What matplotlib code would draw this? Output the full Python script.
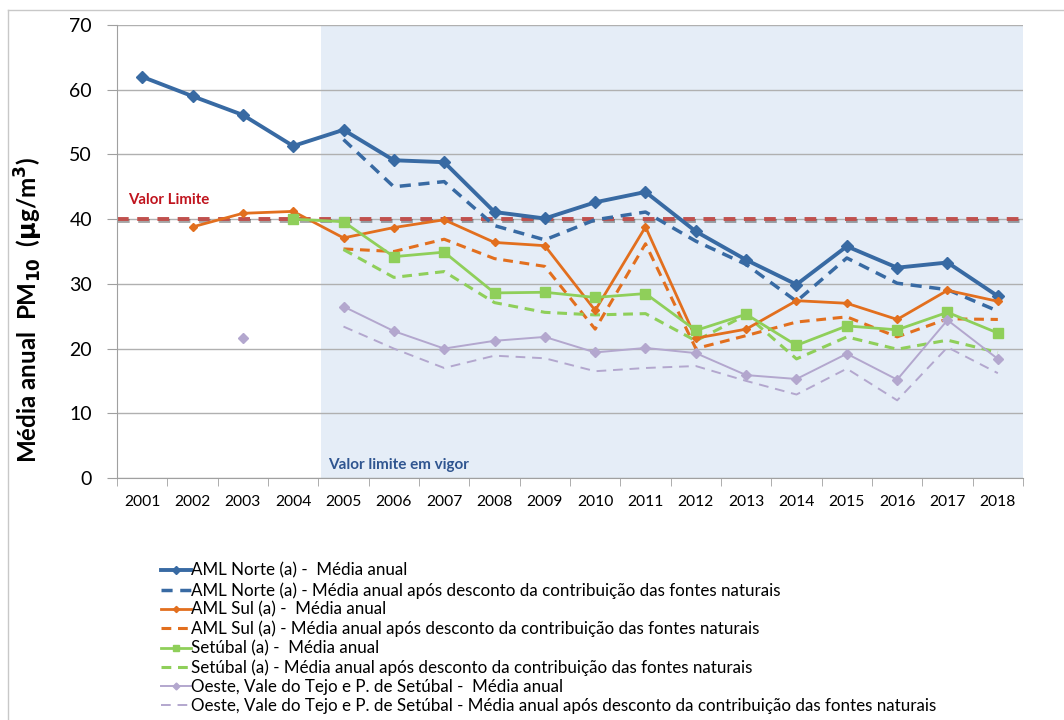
import numpy as np
import matplotlib
matplotlib.use("Agg")
import matplotlib.pyplot as plt
import matplotlib.patheffects as pe
from matplotlib.lines import Line2D

nan = np.nan
years = [str(y) for y in range(2001, 2019)]

norte_media = [62.0, 59.0, 56.1, 51.3, 53.8, 49.1, 48.8, 41.1, 40.1, 42.6, 44.2, 38.1,
               33.7, 29.9, 35.8, 32.5, 33.3, 28.1]
norte_desc = [nan, nan, nan, nan, 52.3, 45.0, 45.8, 39.0, 36.8, 39.9, 41.1, 36.6,
              33.0, 27.3, 34.0, 30.1, 29.1, 25.8]
sul_media = [nan, 38.8, 40.9, 41.2, 37.1, 38.7, 39.9, 36.4, 35.9, 25.9, 38.8, 21.6,
             23.0, 27.4, 27.0, 24.5, 29.0, 27.3]
sul_desc = [nan, nan, nan, nan, 35.4, 35.0, 36.9, 33.9, 32.7, 23.0, 36.2, 20.0,
            22.0, 24.1, 24.9, 21.8, 24.6, 24.5]
set_media = [nan, nan, nan, 40.0, 39.6, 34.2, 34.9, 28.6, 28.7, 27.9, 28.5, 22.8,
             25.3, 20.5, 23.5, 22.9, 25.6, 22.4]
set_desc = [nan, nan, nan, nan, 35.3, 31.0, 31.9, 27.1, 25.6, 25.2, 25.4, 21.2,
            25.2, 18.4, 21.8, 19.9, 21.3, 19.4]
oeste_media = [nan, nan, 21.7, nan, 26.5, 22.7, 20.0, 21.2, 21.8, 19.4, 20.1, 19.3,
               15.9, 15.3, 19.2, 15.2, 24.4, 18.4]
oeste_desc = [nan, nan, nan, nan, 23.4, 20.0, 17.0, 18.9, 18.5, 16.5, 17.0, 17.3,
              15.0, 12.9, 16.9, 12.0, 20.2, 16.2]
valor_limite = 40

labels = [
    "AML Norte (a) -  Média anual",
    "AML Norte (a) - Média anual após desconto da contribuição das fontes naturais",
    "AML Sul (a) -  Média anual",
    "AML Sul (a) - Média anual após desconto da contribuição das fontes naturais",
    "Setúbal (a) -  Média anual",
    "Setúbal (a) - Média anual após desconto da contribuição das fontes naturais",
    "Oeste, Vale do Tejo e P. de Setúbal -  Média anual",
    "Oeste, Vale do Tejo e P. de Setúbal - Média anual após desconto da contribuição das fontes naturais",
]

plt.rcParams['font.family'] = ['Lato', 'DejaVu Sans']

c_norte = '#386AA3'
c_sul = '#E26F1E'
c_set = '#8FCF5A'
c_oeste = '#B3A7CE'

fig = plt.figure(figsize=(10.64, 7.2), dpi=100)
renderer = fig.canvas.get_renderer()


def fit_size(s, target_px, base=12.0, weight='normal', dim='w', rotation=0):
    t = fig.text(0, 0, s, fontsize=base, fontweight=weight, rotation=rotation)
    bb = t.get_window_extent(renderer)
    t.remove()
    cur = bb.width if dim == 'w' else bb.height
    return base * target_px / cur


ax = fig.add_axes([117/1064, 1 - 478/720, (1023-117)/1064, (478-25)/720])

x = np.arange(len(years))
ax.axvspan(3.55, 17.5, color='#E5EDF7', zorder=0, lw=0)

ax.set_ylim(0, 70)
ax.set_xlim(-0.5, 17.5)
ax.set_yticks(range(0, 71, 10))
ax.yaxis.grid(True, color='#B0B0B0', lw=1)
ax.set_axisbelow(True)
ax.set_xticks(x)
xt_size = fit_size('2001', 36)
ax.set_xticklabels(years, fontsize=xt_size)
ax.set_xticks(np.arange(-0.5, 17.6, 1), minor=True)
ax.tick_params(axis='x', which='major', length=0, pad=12)
ax.tick_params(axis='x', which='minor', length=6, color='#A0A0A0')
ax.tick_params(axis='y', labelsize=14, length=7, color='#A0A0A0', pad=11)
for s in ['top', 'right']:
    ax.spines[s].set_visible(False)
for s in ['left', 'bottom']:
    ax.spines[s].set_color('#A0A0A0')

ax.axhline(valor_limite, color='#C0504D', lw=2.8, ls=(0, (3, 2.2)), zorder=2,
           path_effects=[pe.SimpleLineShadow(offset=(0.8, -1.2), alpha=0.35), pe.Normal()])

dash_big = (0, (3.2, 2.2))
h = []
h += ax.plot(x, norte_media, color=c_norte, lw=2.8, marker='D', ms=6.5, zorder=5)
h += ax.plot(x, norte_desc, color=c_norte, lw=2.5, ls=dash_big, zorder=4)
h += ax.plot(x, sul_media, color=c_sul, lw=2.0, marker='D', ms=4.5, zorder=5)
h += ax.plot(x, sul_desc, color=c_sul, lw=2.2, ls=dash_big, zorder=4)
h += ax.plot(x, set_media, color=c_set, lw=2.0, marker='s', ms=7, zorder=5)
h += ax.plot(x, set_desc, color=c_set, lw=2.2, ls=dash_big, zorder=4)
h += ax.plot(x, oeste_media, color=c_oeste, lw=1.4, marker='D', ms=5, zorder=5)
h += ax.plot(x, oeste_desc, color=c_oeste, lw=1.4, ls=(0, (5, 3.5)), zorder=4)

vl_size = fit_size('Valor Limite', 81, weight='bold')
vg_size = fit_size('Valor limite em vigor', 140, weight='bold')
ax.text(-0.28, 42.3, 'Valor Limite', color='#C0141E', fontsize=vl_size, fontweight='bold')
ax.text(3.69, 1.4, 'Valor limite em vigor', color='#2F5590', fontsize=vg_size,
        fontweight='bold')

ylab = r'Média anual  PM$_{\mathbf{10}}$  ($\mathbf{\mu}$g/m$^{\mathbf{3}}$)'
yl_size = fit_size(ylab, 306, base=16, weight='bold', dim='h', rotation=90)
ax.set_ylabel(ylab, fontsize=yl_size, fontweight='bold')
ax.yaxis.set_label_coords(-0.079, 0.371)

lg_size = fit_size(labels[1], 587)
leg = fig.legend(h, labels, loc='upper left', bbox_to_anchor=(154/1064, 1 - 556/720),
                 frameon=False, fontsize=lg_size, handlelength=1.75, handletextpad=0.05,
                 labelspacing=0.18, borderaxespad=0, markerscale=0.7)

fig.add_artist(Line2D([8/1064, 8/1064], [0, 1 - 10/720], transform=fig.transFigure,
                      color='#C8C8C8', lw=1))
fig.add_artist(Line2D([8/1064, 1], [1 - 10/720, 1 - 10/720], transform=fig.transFigure,
                      color='#C8C8C8', lw=1))

fig.savefig('out.png', dpi=100)
